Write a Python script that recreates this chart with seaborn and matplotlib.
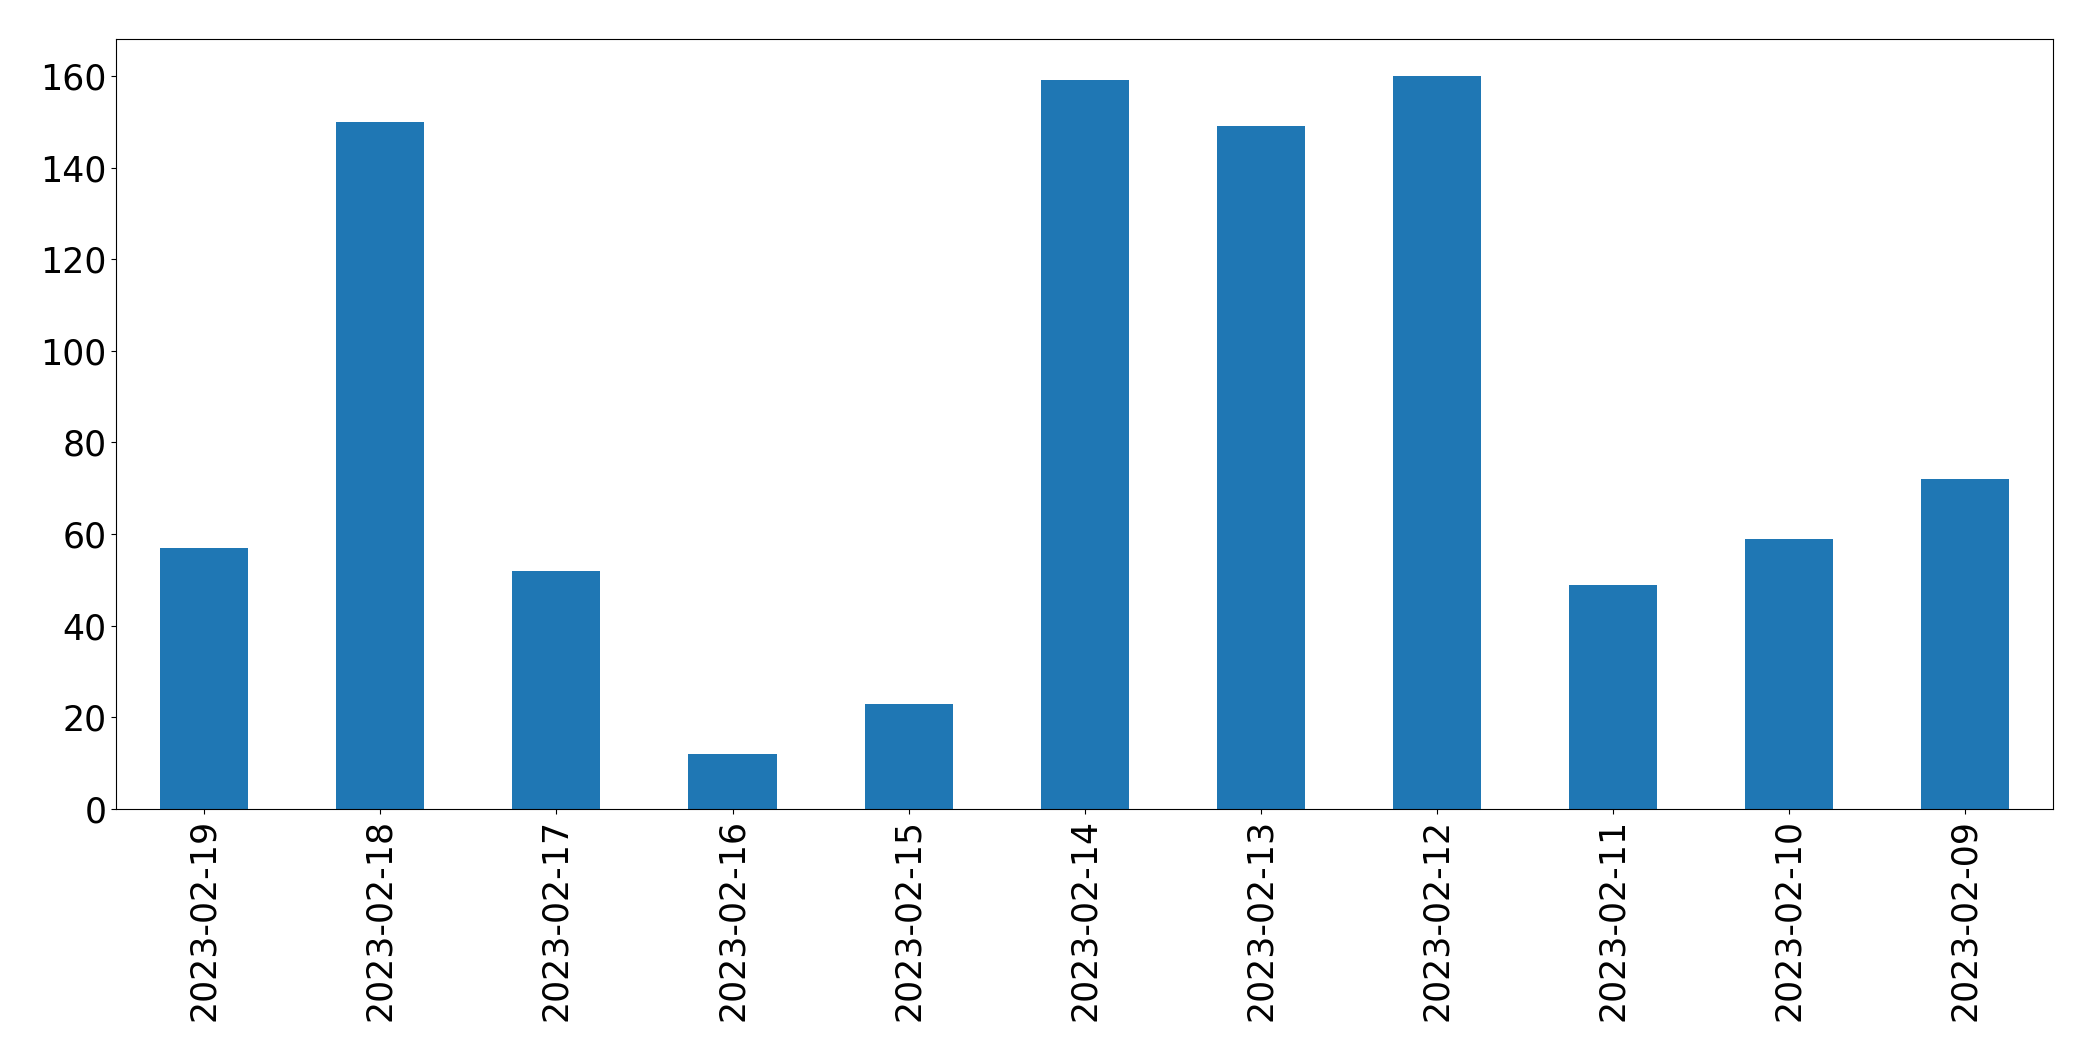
import matplotlib
matplotlib.use("Agg")
import matplotlib.pyplot as plt
import seaborn as sns
import pandas as pd

# daily counts, newest first
dates = ["2023-02-19", "2023-02-18", "2023-02-17", "2023-02-16", "2023-02-15",
         "2023-02-14", "2023-02-13", "2023-02-12", "2023-02-11", "2023-02-10",
         "2023-02-09"]
counts = [57, 150, 52, 12, 23, 159, 149, 160, 49, 59, 72]

df = pd.DataFrame({"date": dates, "count": counts})

fig = plt.figure(figsize=(20.93, 10.61), dpi=100)
ax = fig.add_axes([0.0555, 0.2375, 0.9255, 0.7255])

sns.barplot(data=df, x="date", y="count", order=dates, color="#1f77b4",
            saturation=1, width=0.5, ax=ax)

ax.set_xlim(-0.5, len(dates) - 0.5)
ax.set_ylim(0, max(counts) * 1.05)
ax.set_xlabel("")
ax.set_ylabel("")
ax.tick_params(axis="both", labelsize=25)
for s in ax.spines.values():
    s.set_color("black")
plt.xticks(rotation=90)

fig.savefig("out.png", dpi=100)
